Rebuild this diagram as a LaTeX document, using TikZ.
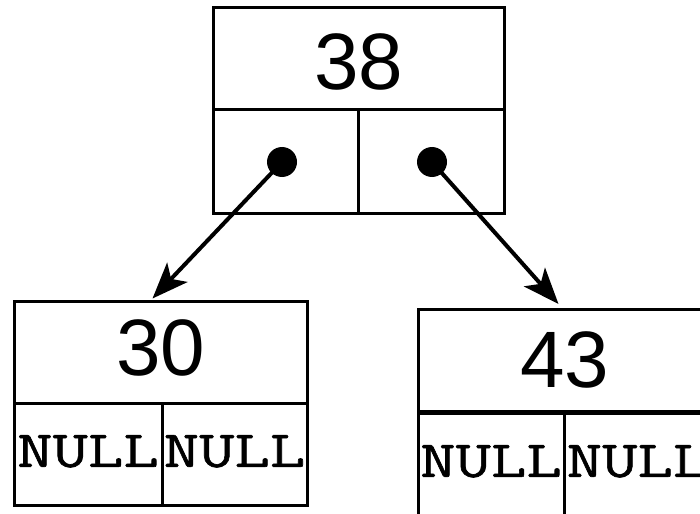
\documentclass[tikz,border=0pt]{standalone}
\usepackage{fontspec}
\setmainfont{Liberation Sans}
\newfontfamily\monoNull[FakeStretch=1.32,FakeBold=1.2]{Latin Modern Mono}
\usetikzlibrary{arrows.meta}
\tikzset{
  cell/.style={draw, line width=3pt, inner sep=0pt, outer sep=0pt, anchor=center},
  valcell/.style={cell, minimum width=291pt, minimum height=102pt, font=\fontsize{80}{96}\selectfont},
  nullcell/.style={cell, minimum height=102pt, font=\monoNull\fontsize{52}{60}\selectfont, text depth=6pt},
  ptrcell/.style={cell, minimum height=103pt},
  dotnode/.style={circle, fill=black, inner sep=0pt, minimum size=30pt},
  ptrarrow/.style={line width=4pt, -{Stealth[length=36pt,width=28pt,inset=9pt]}}
}
\begin{document}
\begin{tikzpicture}[x=1pt,y=-1pt]
\useasboundingbox (0,0) rectangle (700,513);
\clip (0,0) rectangle (700,513);
% top node 38
\node[valcell, text height=62pt] (v38) at (358.5,59) {38};
\node[ptrcell, minimum width=145pt] (l38) at (285.5,161.5) {};
\node[ptrcell, minimum width=146pt] (r38) at (431,161.5) {};
\node[dotnode] (dl) at (282,162) {};
\node[dotnode] (dr) at (432,162) {};
% left node 30
\node[valcell, minimum width=293pt, text depth=10pt] (v30) at (160.5,352.5) {30};
\node[nullcell, minimum width=148pt] (l30) at (88,454) {NULL};
\node[nullcell, minimum width=145pt] (r30) at (234.5,454) {NULL};
% right node 43
\node[valcell, minimum width=293pt] (v43) at (564.5,360) {43};
\node[nullcell, minimum width=146pt] (l43) at (491,464) {NULL};
\node[nullcell, minimum width=147pt] (r43) at (637.5,464) {NULL};
% arrows
\draw[ptrarrow] (dl.center) -- ([xshift=-8pt,yshift=3pt]v30.north);
\draw[ptrarrow] (dr.center) -- ([xshift=-6pt,yshift=5pt]v43.north);
\end{tikzpicture}
\end{document}
